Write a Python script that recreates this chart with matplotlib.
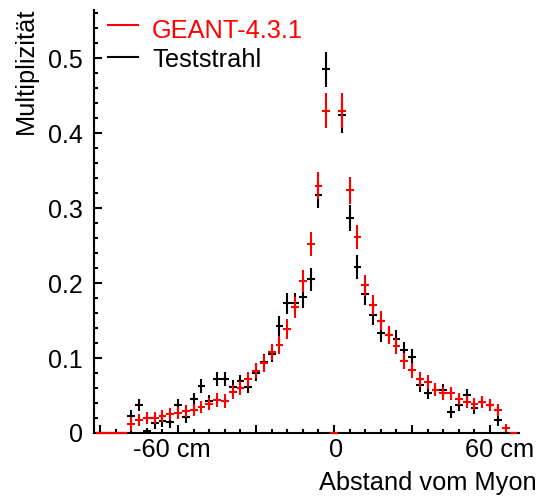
import numpy as np
import matplotlib
matplotlib.use("Agg")
import matplotlib.pyplot as plt
from matplotlib.ticker import MultipleLocator, FixedLocator
from matplotlib.lines import Line2D

plt.rcParams['font.family'] = ['Liberation Sans', 'DejaVu Sans']

# ---- data -------------------------------------------------------------
bin_width_cm = 3.0
bin_centers_cm = np.arange(-90, 70, 3)  # 54 bins, -90 ... 69 cm

teststrahl = [0, 0, 0, 0,
              0.023, 0.038, 0.003, 0.013, 0.016, 0.015, 0.037, 0.022, 0.045, 0.063,
              0.043, 0.072, 0.072, 0.062, 0.069, 0.062, 0.080, 0.095, 0.106, 0.143,
              0.173, 0.173, 0.181, 0.205, 0.318, 0.485,
              0,
              0.424, 0.287, 0.222, 0.185, 0.157, 0.134, 0.131, 0.125, 0.111, 0.101,
              0.064, 0.054, 0.058, 0.057, 0.028, 0.037, 0.051, 0.033, 0.042, 0.037,
              0.018, 0, 0]
teststrahl_err = [0, 0, 0, 0,
                  0.008, 0.008, 0.004, 0.008, 0.008, 0.008, 0.008, 0.008, 0.008, 0.009,
                  0.008, 0.009, 0.009, 0.009, 0.009, 0.009, 0.010, 0.010, 0.011, 0.013,
                  0.014, 0.014, 0.014, 0.015, 0.018, 0.023,
                  0,
                  0.024, 0.017, 0.016, 0.014, 0.013, 0.012, 0.012, 0.012, 0.011, 0.011,
                  0.009, 0.008, 0.008, 0.008, 0.008, 0.008, 0.008, 0.008, 0.008, 0.008,
                  0.008, 0, 0]

geant = [0, 0, 0, 0,
         0.012, 0.017, 0.020, 0.020, 0.023, 0.025, 0.027, 0.029, 0.031, 0.035,
         0.039, 0.044, 0.043, 0.055, 0.060, 0.072, 0.083, 0.093, 0.108, 0.118,
         0.139, 0.168, 0.203, 0.252, 0.330, 0.430,
         0,
         0.430, 0.324, 0.261, 0.197, 0.171, 0.150, 0.131, 0.116, 0.096, 0.084,
         0.072, 0.068, 0.058, 0.053, 0.053, 0.046, 0.041, 0.039, 0.042, 0.037,
         0.031, 0.007, 0]
geant_err = [0, 0, 0, 0,
             0.009, 0.008, 0.008, 0.008, 0.008, 0.008, 0.008, 0.008, 0.008, 0.008,
             0.008, 0.009, 0.009, 0.009, 0.009, 0.010, 0.010, 0.011, 0.011, 0.012,
             0.013, 0.014, 0.015, 0.016, 0.018, 0.023,
             0,
             0.023, 0.018, 0.016, 0.014, 0.013, 0.013, 0.012, 0.011, 0.011, 0.010,
             0.010, 0.009, 0.009, 0.009, 0.009, 0.008, 0.008, 0.008, 0.008, 0.008,
             0.008, 0.005, 0]

x_tick_positions = [-62.3, 0.8, 63.8]
x_tick_labels = ["-60 cm", "0", "60 cm"]
y_ticks = [0, 0.1, 0.2, 0.3, 0.4, 0.5]
y_tick_labels = ["0", "0.1", "0.2", "0.3", "0.4", "0.5"]

# ---- figure -----------------------------------------------------------
W, H = 542, 501
fig = plt.figure(figsize=(W / 100, H / 100), dpi=100)
ax = fig.add_axes([94.3 / W, 1 - 433 / H, (519 - 94.3) / W, (433 - 9.5) / H])

lw = 1.5
for vals, errs, col, z in [(teststrahl, teststrahl_err, 'black', 3),
                           (geant, geant_err, '#ff0000', 4)]:
    cont = ax.errorbar(bin_centers_cm, vals, yerr=errs, xerr=bin_width_cm / 2,
                       fmt='none', ecolor=col, elinewidth=lw, capsize=0, zorder=z)
    for art in cont.get_children():
        art.set_clip_on(False)

ax.set_xlim(-92.2, 71.15)
ax.set_ylim(0, 0.5647)

for s in ['top', 'right']:
    ax.spines[s].set_visible(False)
for s in ['left', 'bottom']:
    ax.spines[s].set_linewidth(1.5)
    ax.spines[s].set_zorder(2)

ax.xaxis.set_major_locator(FixedLocator([-90, -60, -30, 0, 30, 60]))
ax.xaxis.set_minor_locator(MultipleLocator(6))
ax.set_xticklabels([])
ax.set_yticks(y_ticks)
ax.set_yticklabels(y_tick_labels)
ax.yaxis.set_minor_locator(MultipleLocator(0.02))
ax.tick_params(which='both', direction='in', width=1.5, colors='black')
ax.tick_params(which='major', length=6)
ax.tick_params(which='minor', length=3)
ax.tick_params(axis='y', which='major', labelsize=18, pad=8)
ax.tick_params(axis='x', which='both', bottom=True, top=False, labelbottom=False)

for xp, lab in zip(x_tick_positions, x_tick_labels):
    ax.annotate(lab, xy=(xp, 0), xycoords=('data', 'axes fraction'),
                xytext=(0, -3.5), textcoords='offset points',
                ha='center', va='top', fontsize=18.3, annotation_clip=False)

fig.text(537 / W, 1 - 490 / H, "Abstand vom Myon", ha='right', va='baseline',
         fontsize=18.3)
fig.text(26 / W, 1 - 8 / H, "Multiplizität", rotation=90, ha='center', va='top',
         fontsize=18.3)

# legend
fig.add_artist(Line2D([108 / W, 138 / W], [1 - 25 / H, 1 - 25 / H],
                      color='#ff0000', lw=1.5, transform=fig.transFigure))
fig.add_artist(Line2D([108 / W, 138 / W], [1 - 57 / H, 1 - 57 / H],
                      color='black', lw=1.5, transform=fig.transFigure))
fig.text(152 / W, 1 - 38 / H, "GEANT-4.3.1", color='#ff0000', ha='left',
         va='baseline', fontsize=18.3)
fig.text(152 / W, 1 - 66.5 / H, "Teststrahl", color='black', ha='left',
         va='baseline', fontsize=18.3)

fig.savefig("out.png", dpi=100)
